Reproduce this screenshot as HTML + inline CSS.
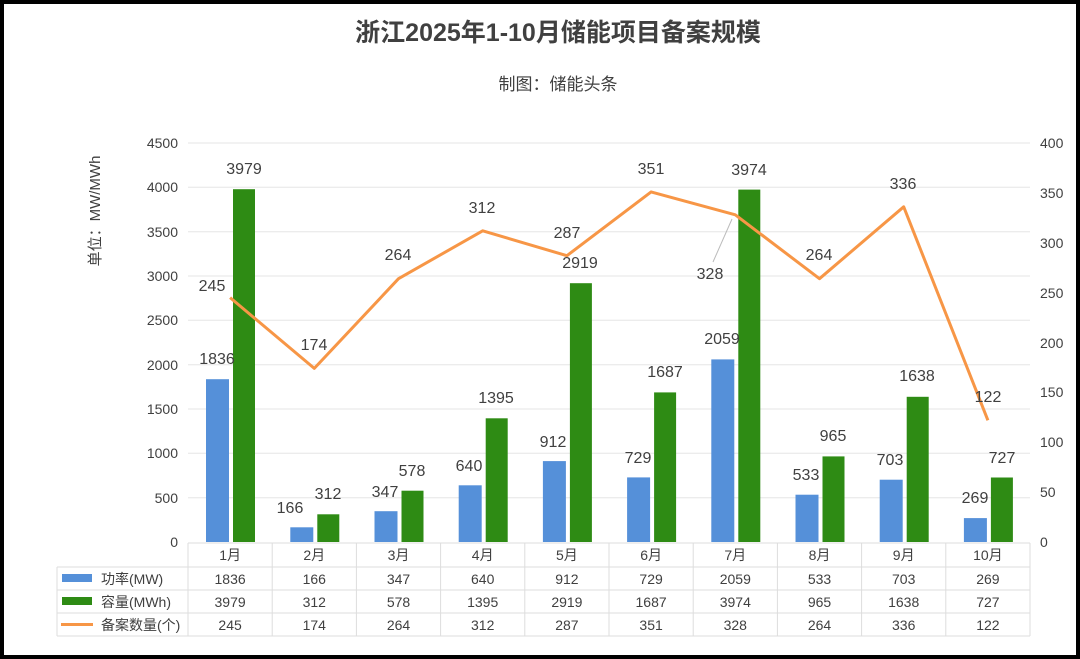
<!DOCTYPE html>
<html><head><meta charset="utf-8"><style>
html,body{margin:0;padding:0;background:#fff}
svg{display:block}
text{font-family:"Liberation Sans","Noto Sans CJK SC",sans-serif;fill:#404040}
</style></head><body>
<svg width="1080" height="659" viewBox="0 0 1080 659">
<rect x="2" y="2" width="1076" height="655" fill="#fff" stroke="#000" stroke-width="4"/>
<text x="558" y="41" font-size="25" font-weight="bold" text-anchor="middle" fill="#333">浙江2025年1-10月储能项目备案规模</text>
<text x="558" y="90" font-size="17" text-anchor="middle" fill="#333">制图：储能头条</text>
<text transform="translate(100,211) rotate(-90)" font-size="15" text-anchor="middle" fill="#444">单位：MW/MWh</text>
<g stroke="#e6e6e6" stroke-width="1">
<line x1="188" x2="1030" y1="143" y2="143"/><line x1="188" x2="1030" y1="187.3" y2="187.3"/>
<line x1="188" x2="1030" y1="231.7" y2="231.7"/><line x1="188" x2="1030" y1="276" y2="276"/>
<line x1="188" x2="1030" y1="320.3" y2="320.3"/><line x1="188" x2="1030" y1="364.7" y2="364.7"/>
<line x1="188" x2="1030" y1="409" y2="409"/><line x1="188" x2="1030" y1="453.3" y2="453.3"/>
<line x1="188" x2="1030" y1="497.7" y2="497.7"/>
</g>
<g font-size="14" text-anchor="end" fill="#555">
<text x="178" y="148">4500</text><text x="178" y="192">4000</text><text x="178" y="237">3500</text>
<text x="178" y="281">3000</text><text x="178" y="325">2500</text><text x="178" y="370">2000</text>
<text x="178" y="414">1500</text><text x="178" y="458">1000</text><text x="178" y="503">500</text>
<text x="178" y="547">0</text>
</g>
<g font-size="14" text-anchor="start" fill="#555">
<text x="1040" y="148">400</text><text x="1040" y="198">350</text><text x="1040" y="248">300</text>
<text x="1040" y="298">250</text><text x="1040" y="348">200</text><text x="1040" y="397">150</text>
<text x="1040" y="447">100</text><text x="1040" y="497">50</text><text x="1040" y="547">0</text>
</g>
<g fill="#5590d9">
<rect x="206" y="379.2" width="23" height="162.8"/><rect x="290.3" y="527.3" width="23" height="14.7"/>
<rect x="374.5" y="511.2" width="23" height="30.8"/><rect x="458.7" y="485.3" width="23" height="56.7"/>
<rect x="542.9" y="461.1" width="23" height="80.9"/><rect x="627.1" y="477.4" width="23" height="64.6"/>
<rect x="711.3" y="359.4" width="23" height="182.6"/><rect x="795.5" y="494.7" width="23" height="47.3"/>
<rect x="879.7" y="479.7" width="23" height="62.3"/><rect x="963.9" y="518.1" width="23" height="23.9"/>
</g>
<g fill="#2e8b14">
<rect x="233" y="189.2" width="22" height="352.8"/><rect x="317.3" y="514.3" width="22" height="27.7"/>
<rect x="401.5" y="490.7" width="22" height="51.3"/><rect x="485.7" y="418.3" width="22" height="123.7"/>
<rect x="569.9" y="283.2" width="22" height="258.8"/><rect x="654.1" y="392.4" width="22" height="149.6"/>
<rect x="738.3" y="189.6" width="22" height="352.4"/><rect x="822.5" y="456.4" width="22" height="85.6"/>
<rect x="906.7" y="396.8" width="22" height="145.2"/><rect x="990.9" y="477.5" width="22" height="64.5"/>
</g>
<polyline fill="none" stroke="#f79646" stroke-width="3" stroke-linejoin="round" points="230.1,297.6 314.3,368.4 398.5,278.7 482.7,230.8 566.9,255.7 651.1,191.9 735.3,214.8 819.5,278.7 903.7,206.8 987.9,420.3"/>
<line x1="713" y1="262" x2="732" y2="219" stroke="#bbb" stroke-width="1"/>
<g font-size="16" text-anchor="middle" fill="#333">
<text x="217" y="364">1836</text><text x="290" y="513">166</text><text x="385" y="497">347</text>
<text x="469" y="471">640</text><text x="553" y="447">912</text><text x="638" y="463">729</text>
<text x="722" y="344">2059</text><text x="806" y="480">533</text><text x="890" y="465">703</text>
<text x="975" y="503">269</text>
<text x="244" y="174">3979</text><text x="328" y="499">312</text><text x="412" y="476">578</text>
<text x="496" y="403">1395</text><text x="580" y="268">2919</text><text x="665" y="377">1687</text>
<text x="749" y="175">3974</text><text x="833" y="441">965</text><text x="917" y="381">1638</text>
<text x="1002" y="463">727</text>
<text x="212" y="291">245</text><text x="314" y="350">174</text><text x="398" y="260">264</text>
<text x="482" y="213">312</text><text x="567" y="238">287</text><text x="651" y="174">351</text>
<text x="710" y="279">328</text><text x="819" y="260">264</text><text x="903" y="189">336</text>
<text x="988" y="402">122</text>
</g>
<g stroke="#ddd" stroke-width="1" fill="none">
<line x1="188" y1="543" x2="1030" y2="543"/>
<line x1="57" y1="567" x2="1030" y2="567"/>
<line x1="57" y1="590" x2="1030" y2="590"/>
<line x1="57" y1="613" x2="1030" y2="613"/>
<line x1="57" y1="636" x2="1030" y2="636"/>
<line x1="57" y1="567" x2="57" y2="636"/>
<line x1="188" y1="543" x2="188" y2="636"/><line x1="272.2" y1="543" x2="272.2" y2="636"/>
<line x1="356.4" y1="543" x2="356.4" y2="636"/><line x1="440.6" y1="543" x2="440.6" y2="636"/>
<line x1="524.8" y1="543" x2="524.8" y2="636"/><line x1="609" y1="543" x2="609" y2="636"/>
<line x1="693.2" y1="543" x2="693.2" y2="636"/><line x1="777.4" y1="543" x2="777.4" y2="636"/>
<line x1="861.6" y1="543" x2="861.6" y2="636"/><line x1="945.8" y1="543" x2="945.8" y2="636"/>
<line x1="1030" y1="543" x2="1030" y2="636"/>
</g>
<rect x="62" y="574" width="30" height="8" fill="#5590d9"/>
<rect x="62" y="597" width="30" height="8" fill="#2e8b14"/>
<line x1="61" y1="624.5" x2="93" y2="624.5" stroke="#f79646" stroke-width="3"/>
<g font-size="14" fill="#444">
<text x="101" y="584">功率(MW)</text><text x="101" y="607">容量(MWh)</text><text x="101" y="630">备案数量(个)</text>
</g>
<g font-size="14" text-anchor="middle" fill="#444">
<text x="230.1" y="560">1月</text><text x="314.3" y="560">2月</text><text x="398.5" y="560">3月</text>
<text x="482.7" y="560">4月</text><text x="566.9" y="560">5月</text><text x="651.1" y="560">6月</text>
<text x="735.3" y="560">7月</text><text x="819.5" y="560">8月</text><text x="903.7" y="560">9月</text>
<text x="987.9" y="560">10月</text>
<text x="230.1" y="584">1836</text><text x="314.3" y="584">166</text><text x="398.5" y="584">347</text>
<text x="482.7" y="584">640</text><text x="566.9" y="584">912</text><text x="651.1" y="584">729</text>
<text x="735.3" y="584">2059</text><text x="819.5" y="584">533</text><text x="903.7" y="584">703</text>
<text x="987.9" y="584">269</text>
<text x="230.1" y="607">3979</text><text x="314.3" y="607">312</text><text x="398.5" y="607">578</text>
<text x="482.7" y="607">1395</text><text x="566.9" y="607">2919</text><text x="651.1" y="607">1687</text>
<text x="735.3" y="607">3974</text><text x="819.5" y="607">965</text><text x="903.7" y="607">1638</text>
<text x="987.9" y="607">727</text>
<text x="230.1" y="630">245</text><text x="314.3" y="630">174</text><text x="398.5" y="630">264</text>
<text x="482.7" y="630">312</text><text x="566.9" y="630">287</text><text x="651.1" y="630">351</text>
<text x="735.3" y="630">328</text><text x="819.5" y="630">264</text><text x="903.7" y="630">336</text>
<text x="987.9" y="630">122</text>
</g>
</svg>
</body></html>
